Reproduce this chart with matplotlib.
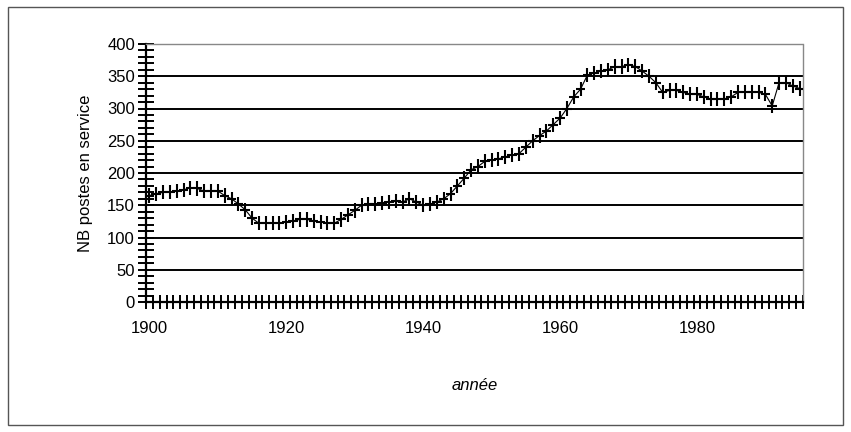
import matplotlib
matplotlib.use('Agg')
import matplotlib.pyplot as plt
import matplotlib.ticker as ticker
from matplotlib.patches import Rectangle

plt.rcParams['font.family'] = ['Liberation Sans Narrow', 'Liberation Sans', 'DejaVu Sans']

# number of stations in service per year
years = list(range(1900, 1996))
postes = [165, 168, 170, 170, 172, 174, 177, 176, 172, 172,
          172, 165, 160, 152, 143, 130, 122, 122, 122, 122,
          124, 126, 128, 128, 126, 124, 122, 122, 128, 135,
          142, 150, 152, 152, 154, 155, 156, 155, 160, 155,
          150, 152, 155, 160, 168, 180, 192, 205, 210, 218,
          220, 222, 225, 228, 230, 240, 250, 258, 265, 275,
          285, 300, 318, 330, 352, 355, 358, 360, 365, 365,
          368, 365, 358, 350, 340, 325, 328, 328, 325, 322,
          322, 318, 315, 315, 315, 318, 325, 325, 325, 325,
          322, 304, 340, 340, 335, 331]
year_labels = [1900, 1920, 1940, 1960, 1980]

fig = plt.figure(figsize=(8.51, 4.32), dpi=100)
ax = fig.add_axes([146 / 851, 1 - 302 / 432, 657 / 851, 258 / 432])

# outer frame round the whole chart
fig.patches.append(Rectangle((8 / 851, 7 / 432), 835 / 851, 418 / 432,
                             transform=fig.transFigure, fill=False,
                             edgecolor='#555555', linewidth=1.0))

for v in range(50, 400, 50):
    ax.axhline(v, color='black', linewidth=1.4, zorder=1)

# "+" marks drawn as small cross bars, plus a thin connecting line
ax.plot(years, postes, color='black', linewidth=0.8, zorder=2)
ax.errorbar(years, postes, xerr=0.7, yerr=11, fmt='none', ecolor='black',
            elinewidth=1.5, capsize=0, zorder=3)

ax.set_xlim(1899.5, 1995.5)
ax.set_ylim(0, 400)

ax.xaxis.set_major_locator(ticker.FixedLocator(year_labels))
ax.xaxis.set_minor_locator(ticker.FixedLocator([y - 0.5 for y in years] + [1995.5]))
ax.yaxis.set_major_locator(ticker.MultipleLocator(50))
ax.yaxis.set_minor_locator(ticker.MultipleLocator(10))

ax.tick_params(axis='x', which='major', length=0, labelsize=12, pad=14)
ax.tick_params(axis='x', which='minor', direction='inout', length=9.5, width=1.4)
ax.tick_params(axis='y', which='both', direction='inout', length=12, width=1.4, labelsize=12, pad=2)

for side in ('top', 'right'):
    ax.spines[side].set_color('#888888')
    ax.spines[side].set_linewidth(1.0)
    ax.spines[side].set_linestyle((0, (1, 1)))
for side in ('left', 'bottom'):
    ax.spines[side].set_color('black')
    ax.spines[side].set_linewidth(1.6)

ax.set_ylabel('NB postes en service', fontsize=12, labelpad=10)
ax.set_xlabel('année', fontsize=12, style='italic', labelpad=30)

plt.savefig('out.png', dpi=100)
